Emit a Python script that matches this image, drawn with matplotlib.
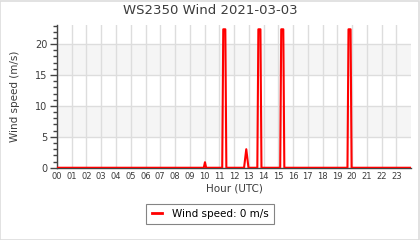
import matplotlib
matplotlib.use("Agg")
import matplotlib.pyplot as plt
from matplotlib.patches import Rectangle
from matplotlib.ticker import MultipleLocator

# Wind samples (hour of day UTC, m/s)
hours = [0.0, 9.95, 10.03, 10.11,
         11.20, 11.27, 11.41, 11.48,
         12.68, 12.83, 12.98,
         13.58, 13.65, 13.79, 13.86,
         15.13, 15.20, 15.34, 15.41,
         19.69, 19.76, 19.90, 19.97, 24.0]
speed = [0.0, 0.0, 0.9, 0.0,
         0.0, 22.4, 22.4, 0.0,
         0.0, 3.0, 0.0,
         0.0, 22.4, 22.4, 0.0,
         0.0, 22.4, 22.4, 0.0,
         0.0, 22.4, 22.4, 0.0, 0.0]
hour_labels = [f"{h:02d}" for h in range(24)]
title = "WS2350 Wind 2021-03-03"

TEXT = "#3c3c3c"
GRID = "#dddddd"
BAND = "#f5f5f5"

fig = plt.figure(figsize=(4.2, 2.4), dpi=100)
ax = fig.add_axes([0.1357, 0.301, 0.843, 0.595])

# alternating horizontal bands
for lo in (5, 15):
    ax.axhspan(lo, lo + 5, color=BAND, zorder=0, lw=0)

ax.plot(hours, speed, color="#ff0000", lw=1.5, zorder=3,
        label=f"Wind speed: {speed[-1]:.0f} m/s")

ax.set_xlim(0, 24)
ax.set_ylim(0, 23.1)
ax.set_xticks(range(24))
ax.set_xticklabels(hour_labels)
ax.yaxis.set_major_locator(MultipleLocator(5))
ax.yaxis.set_minor_locator(MultipleLocator(1))
ax.grid(True, color=GRID, lw=1, zorder=1)
ax.set_axisbelow(True)

ax.tick_params(axis="x", length=0, pad=3, labelsize=6, labelcolor=TEXT)
ax.tick_params(axis="y", which="major", length=5, width=1, color="#444444",
               labelsize=7, labelcolor=TEXT, pad=2)
ax.tick_params(axis="y", which="minor", length=3, width=1, color="#444444")

for side in ("top", "right"):
    ax.spines[side].set_visible(False)
for side in ("left", "bottom"):
    ax.spines[side].set_color("#444444")
    ax.spines[side].set_linewidth(1)

ax.set_xlabel("Hour (UTC)", fontsize=7.5, color=TEXT, labelpad=2)
ax.set_ylabel("Wind speed (m/s)", fontsize=7.5, color=TEXT, labelpad=11)
fig.text(0.5, 0.955, title, ha="center", va="center", fontsize=9.5, color=TEXT)

leg = fig.legend(loc="center", bbox_to_anchor=(0.501, 0.108), fontsize=7.5,
                 frameon=True, fancybox=False, handlelength=1.0,
                 handletextpad=1.0, borderpad=0.5, edgecolor="#666666")
leg.get_frame().set_linewidth(0.8)
for line in leg.get_lines():
    line.set_linewidth(2)

# light frame round the whole image
fig.patches.append(Rectangle((0.001, 0.002), 0.997, 0.995, transform=fig.transFigure,
                             fill=False, edgecolor="#dddddd", lw=1.2))

fig.savefig("out.png", dpi=100)
